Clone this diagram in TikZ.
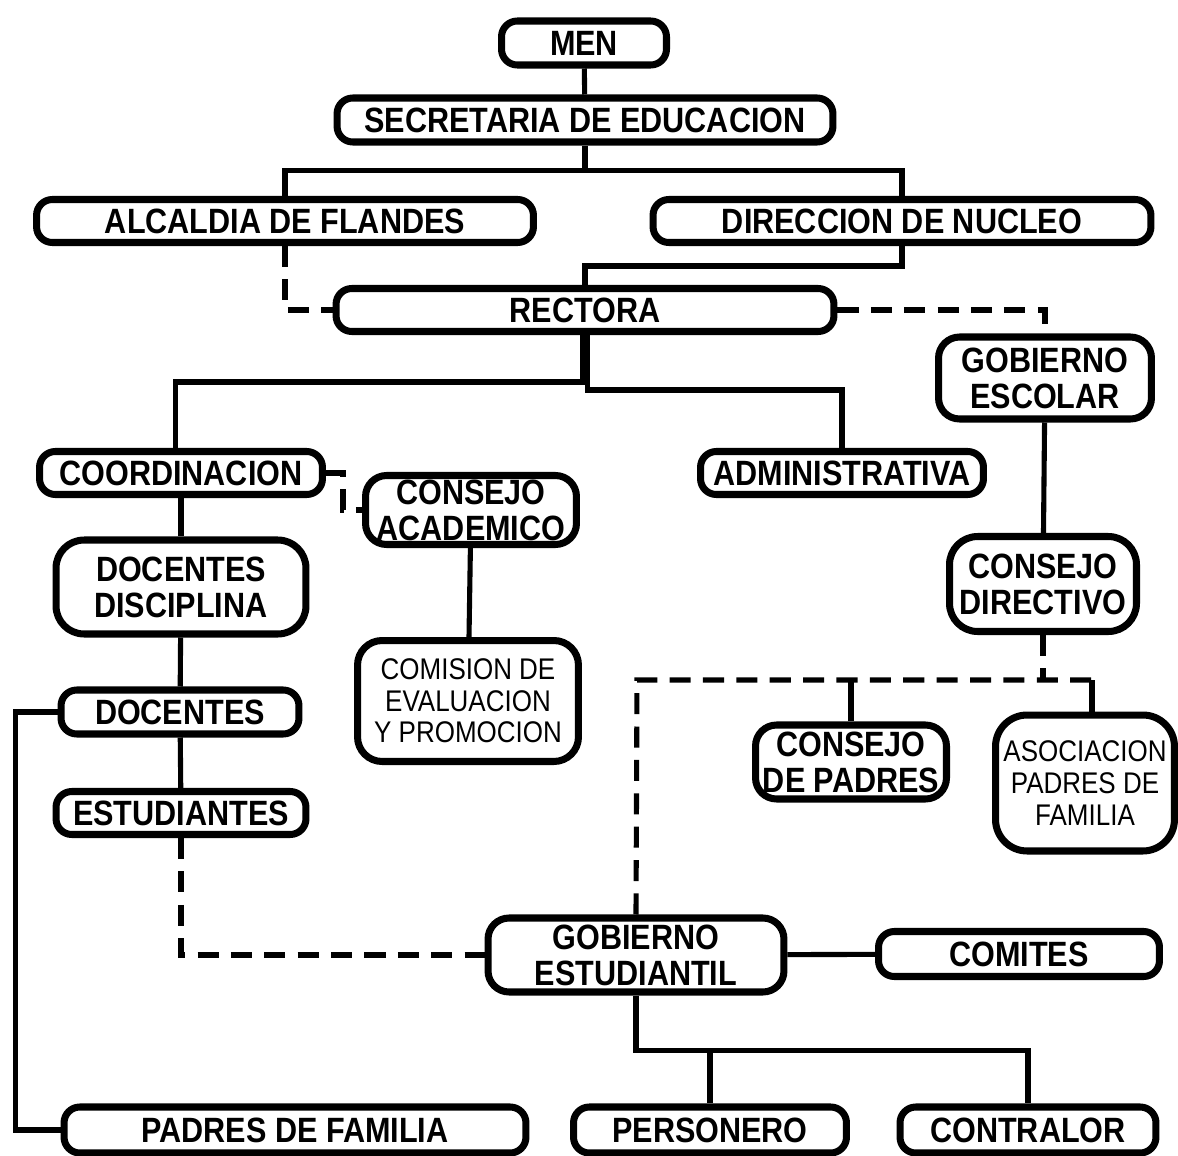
\documentclass[tikz,border=0pt]{standalone}
\usepackage{fontspec}
\setmainfont{Liberation Sans}[FakeStretch=0.87]
\usepackage{tikz}
\usetikzlibrary{calc}
\tikzset{
  box/.style={draw, line width=4pt, rounded corners=9pt, fill=white, align=center,
    inner sep=1pt, font=\fontsize{20}{20.5}\selectfont\bfseries},
  thinbox/.style={box, rounded corners=14pt, font=\fontsize{17}{18}\selectfont},
  link/.style={line width=2.9pt},
  dashlink/.style={line width=2.9pt, dash pattern=on 12pt off 7pt}
}

\begin{document}
\begin{tikzpicture}[x=0.02cm,y=-0.02cm]
  \useasboundingbox (0,0) rectangle (1178,1156);
  % boxes
  \node[box, minimum width=3.3cm, minimum height=0.88cm] (men) at (584,43) {MEN};
  \node[box, minimum width=9.92cm, minimum height=0.88cm] (sec) at (585,120) {SECRETARIA DE EDUCACION};
  \node[box, minimum width=9.94cm, minimum height=0.86cm] (alc) at (285,221) {ALCALDIA DE FLANDES};
  \node[box, minimum width=9.96cm, minimum height=0.86cm] (dir) at (902,221) {DIRECCION DE NUCLEO};
  \node[box, minimum width=9.96cm, minimum height=0.86cm] (rec) at (585,310) {RECTORA};
  \node[box, rounded corners=12pt, minimum width=4.26cm, minimum height=1.64cm] (gesc) at (1045,378) {GOBIERNO\\ESCOLAR};
  \node[box, minimum width=5.66cm, minimum height=0.86cm] (coord) at (181,473) {COORDINACION};
  \node[box, rounded corners=12pt, minimum width=4.22cm, minimum height=1.38cm] (acad) at (471,510) {CONSEJO\\ACADEMICO};
  \node[box, minimum width=5.66cm, minimum height=0.86cm] (adm) at (842,473) {ADMINISTRATIVA};
  \node[box, rounded corners=16pt, minimum width=5cm, minimum height=1.88cm] (docd) at (181,587) {DOCENTES\\DISCIPLINA};
  \node[box, rounded corners=16pt, minimum width=3.74cm, minimum height=1.9cm] (cdir) at (1043,584) {CONSEJO\\DIRECTIVO};
  \node[thinbox, minimum width=4.42cm, minimum height=2.42cm] (com) at (468,701) {COMISION DE\\EVALUACION\\Y PROMOCION};
  \node[box, minimum width=4.76cm, minimum height=0.88cm] (doc) at (180,712) {DOCENTES};
  \node[box, minimum width=5cm, minimum height=0.86cm] (est) at (181,813) {ESTUDIANTES};
  \node[box, rounded corners=12pt, minimum width=3.82cm, minimum height=1.48cm] (cpad) at (851,762) {CONSEJO\\DE PADRES};
  \node[thinbox, rounded corners=18pt, minimum width=3.58cm, minimum height=2.72cm] (asoc) at (1085,783) {ASOCIACION\\PADRES DE\\FAMILIA};
  \node[box, rounded corners=12pt, minimum width=5.92cm, minimum height=1.48cm] (gest) at (636,955) {GOBIERNO\\ESTUDIANTIL};
  \node[box, minimum width=5.62cm, minimum height=0.9cm] (comi) at (1019,954) {COMITES};
  \node[box, minimum width=9.24cm, minimum height=0.92cm] (pad) at (295,1130) {PADRES DE FAMILIA};
  \node[box, minimum width=5.46cm, minimum height=0.92cm] (pers) at (710,1130) {PERSONERO};
  \node[box, minimum width=5.12cm, minimum height=0.92cm] (cont) at (1028,1130) {CONTRALOR};
  % solid links
  \draw[link] (men) -- (sec);
  \draw[link] (sec.south) -- ++(0,25) -| (alc.north);
  \draw[link] (sec.south) -- ++(0,25) -| (dir.north);
  \draw[link] (dir.south) -- ++(0,20) -| (rec.north);
  \draw[link] ([xshift=-1.5pt]rec.south) -- ++(0,47) -| ([xshift=-3pt]coord.north);
  \draw[link] ([xshift=1.5pt]rec.south) -- ++(0,55) -| (adm.north);
  \draw[link] (coord) -- (docd);
  \draw[link] (docd) -- (doc);
  \draw[link] (doc) -- (est);
  \draw[link] (acad) -- (com);
  \draw[link] (doc.west) -- ++(-42,0) |- (pad.west);
  \draw[link] (gesc) -- (cdir);
  \draw[link] (gest) -- (comi);
  \draw[link] (gest.south) -- ++(0,55) -| (pers.north);
  \draw[link] (gest.south) -- ++(0,55) -| (cont.north);
  % dashed links
  \draw[dashlink] (alc.south) |- (rec.west);
  \draw[dashlink] (rec.east) -| (gesc.north);
  \draw[dashlink] (coord.east) -- ++(17,0) |- (acad.west);
  \draw[dashlink] (est.south) |- (gest.west);
  \coordinate (pl) at (637,680);
  \coordinate (pr) at (1092,680);
  \draw[dashlink] (gest.north) -- (pl) -- (pr);
  \draw[dashlink] (cdir.south) -- (cdir.south |- pl);
  \draw[link] (cpad.north) -- (cpad.north |- pl);
  \draw[link] (pr) -- (pr |- asoc.north);
\end{tikzpicture}
\end{document}
